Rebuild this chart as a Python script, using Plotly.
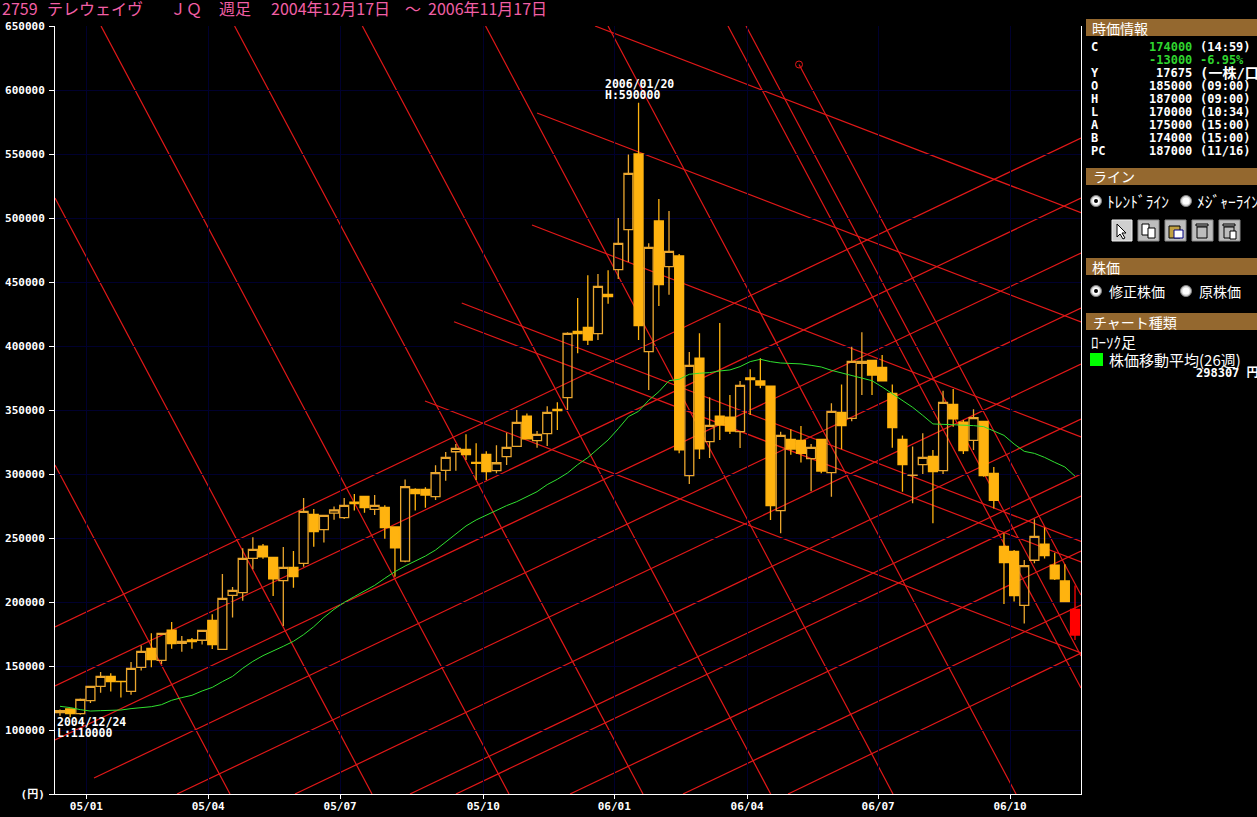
import plotly.graph_objects as go

# ---------- data ----------
week = list(range(101))
open_ = [113500,116400,112800,122900,134100,141900,138000,130200,149000,163800,154400,178100,167700,170300,170100,185700,163000,205200,207300,234100,243700,234900,216700,227100,230200,268500,256500,269500,265900,278100,282500,272400,274000,258600,232000,288000,288000,282300,302900,317400,319300,309100,315400,302600,313600,321600,345100,326100,331500,350500,359600,411500,414600,409600,440400,459600,490900,550000,395600,497700,462000,470300,298700,390600,325300,345100,344500,333100,375000,372700,368700,271400,327100,326300,312000,327100,301000,348200,343500,386500,388800,383300,363000,327100,299000,307300,313800,302600,354400,340600,326300,341100,300500,243500,239600,197400,232600,245100,228700,216400,194300]
high_ = [116100,116900,124700,134100,145300,144300,138000,153100,166100,175500,175500,184400,173400,171900,177900,190400,221900,211700,241900,250500,245300,234900,243000,239800,281200,272700,267700,274700,281200,284400,282500,283600,275500,258600,295800,288800,289600,306800,317200,323400,331000,324000,317700,322400,332300,350000,347200,333600,352900,356000,410700,437500,455200,456300,459100,500000,549700,590000,480200,514800,505500,471900,395300,409900,359900,418000,361700,372700,381800,390400,368800,333100,334900,337500,323400,327100,355200,370000,399500,410700,388800,393000,370000,330000,321400,331800,318800,365100,366400,342200,350500,341100,305500,253700,240600,232800,264600,258300,238500,229400,212800]
low_ = [111200,110000,112000,121100,129100,130000,125300,127600,146400,149000,151600,163500,161200,163500,166700,163300,163000,187800,201000,225500,233800,204700,181200,211200,227600,243200,246400,264300,264800,271400,269800,268000,249500,219800,231000,271400,273700,279700,294800,302600,311000,295300,295300,300500,307000,321600,327400,320600,321900,334400,350000,394300,400800,404700,433100,452400,465600,404700,365600,431300,440100,316200,292200,311700,312500,326600,331300,320300,346100,366900,264100,253700,315100,308900,286500,300500,282300,319300,341200,361700,361700,372700,320600,286200,277100,300000,261500,300000,337000,315600,318800,297900,273000,198400,200300,183300,230200,233900,217200,200300,170300]
close_ = [115100,112800,124000,134100,141900,137800,137800,148200,161500,155000,175500,167500,169300,169000,177900,166700,202900,209100,234100,241100,235200,218000,227100,219800,270800,255000,267700,271900,275500,276800,273700,275500,258100,242400,290100,284600,283600,301000,313000,320000,315100,308300,301800,308800,320800,340400,327400,331000,348200,349500,409900,409600,404700,446600,438600,480200,534900,415900,477100,447900,474000,318800,384900,319600,338000,338300,333600,369300,373700,369500,275300,330200,319500,316100,320800,302300,349000,337800,388000,388000,377300,372700,336200,307300,299100,313000,301800,356000,343000,318200,344000,298700,279400,230700,205000,228400,251300,236200,218000,200300,174200]
ma26 = [118500,117500,115900,114800,115100,115400,115600,116700,117500,118200,119800,123200,125300,127100,130500,133300,137800,141900,148200,153600,158100,161500,165400,169300,174500,180700,188000,194300,199700,204200,208300,213000,218500,223700,228100,232000,235900,240600,246900,252600,259400,264100,268000,271900,275300,278400,282000,286200,291700,295900,300800,307300,312800,319800,326600,335400,344800,349000,357600,364300,372900,374000,377900,378700,379200,380500,381300,383900,387800,389600,387800,386700,386500,386000,384900,383600,381000,378900,376800,374700,372900,368000,362500,357300,352100,345800,339100,338800,338500,338000,337800,337000,333900,330200,323400,317700,316100,313000,309100,305500,298300]

tick_pos = [2.6,14.6,27.6,41.7,54.6,67.7,80.6,93.6]
tick_txt = ["05/01","05/04","05/07","05/10","06/01","06/04","06/07","06/10"]
price_ticks = list(range(50000,650001,50000))
price_labels = ["(円)"]+[str(p) for p in price_ticks[1:]]

# trendlines: week-index / price pairs
X_L, X_R = -0.4926, 100.59
P_B, P_T = 50000, 650000
rising = [(X_L,180470,X_R,562500),(X_L,134375,X_R,515625),(X_L,92188,X_R,472656),(3.35,62500,X_R,429688),
          (11.53,P_B,X_R,385938),(23.15,P_B,X_R,342969),(34.48,P_B,X_R,300000),(39.01,P_B,X_R,282812),
          (50.25,P_B,X_R,239844),(61.38,P_B,X_R,197656),(71.73,P_B,X_R,160156)]
steep = [(X_L,515625,30.74,P_B),(X_L,307031,16.75,P_B),(4.04,P_T,44.24,P_B),(17.2,P_T,57.44,P_B),(29.79,P_T,70.02,P_B),
         (41.93,P_T,82.07,P_B),(53.99,P_T,94.19,P_B),(65.81,P_T,X_R,132812),(67.59,P_T,X_R,157812),(72.81,619922,X_R,205469)]
shallow = [(52.71,P_T,X_R,504141),(47.0,582031,X_R,418750),(46.5,494531,X_R,328906),
           (39.58,433594,X_R,247266),(38.82,418984,X_R,231250),(35.96,357031,X_R,160156)]

# ---------- helpers ----------
W,H = 1257,817
L,R,T,B = 55,176,26,23
PW,PH = W-L-R,H-T-B
px = lambda x:(x-L)/PW
py = lambda y:1-(y-T)/PH
MONO = "DejaVu Sans Mono, Noto Sans CJK JP"
JP = "Noto Sans CJK JP, DejaVu Sans"
ORANGE,HOLLOW = "#ffb30f","#eaa62e"
RED = "#e21818"
GRID = "#00002e"

anns,shapes = [],[]
def label(x,y,text,color="#ffffff",size=12,family=MONO,anchor="left",bold=False):
    t = f"<b>{text}</b>" if bold else text
    anns.append(dict(xref="paper",yref="paper",x=px(x),y=py(y),text=t,showarrow=False,xanchor=anchor,yanchor="middle",
                     align="left",borderpad=0,borderwidth=0,font=dict(color=color,size=size,family=family)))
def rect(x0,y0,x1,y1,fill,line=None,lw=1):
    shapes.append(dict(type="rect",xref="paper",yref="paper",x0=px(x0),x1=px(x1),y0=py(y0),y1=py(y1),fillcolor=fill,layer="above",
                       line=dict(color=line or fill,width=lw if line else 0)))
def circle(cx,cy,r,fill,line=None):
    shapes.append(dict(type="circle",xref="paper",yref="paper",x0=px(cx-r),x1=px(cx+r),y0=py(cy-r),y1=py(cy+r),fillcolor=fill,layer="above",
                       line=dict(color=line or fill,width=1 if line else 0)))
def poly(points,fill,line=None):
    d = "M"+" L".join(f"{px(a):.5f},{py(b):.5f}" for a,b in points)+" Z"
    shapes.append(dict(type="path",path=d,xref="paper",yref="paper",fillcolor=fill,layer="above",line=dict(color=line or fill,width=1)))

for seg in rising+steep+shallow:
    shapes.append(dict(type="line",xref="x",yref="y",x0=seg[0],y0=seg[1],x1=seg[2],y1=seg[3],layer="below",line=dict(color=RED,width=1.2)))

# ---------- chart labels ----------
for x,t in [(2,"2759"),(47,"テレウェイヴ"),(170,"ＪＱ"),(219,"週足"),(271,"2004年12月17日"),(405,"～"),(428,"2006年11月17日")]:
    label(x,8,t,"#f25fa5",16,JP)
label(605,84,"2006/01/20",size=11.5,bold=True)
label(605,95,"H:590000",size=11.5,bold=True)
label(57,722,"2004/12/24",size=11.5,bold=True)
label(57,733,"L:110000",size=11.5,bold=True)

# ---------- side panel ----------
BROWN = "#94682f"
for y0,t,lx in [(19,"時価情報",1092),(168,"ライン",1093),(258,"株価",1092),(313,"チャート種類",1093)]:
    rect(1086,y0,1257,y0+17,BROWN)
    label(lx,y0+8.5,t,"#ffffff",14,JP)

rows = [("C",47.5,"174000","(14:59)"),("",60,"-13000","-6.95%"),("Y",73,"17675","(一株/口"),("O",86,"185000","(09:00)"),
        ("H",99,"187000","(09:00)"),("L",112,"170000","(10:34)"),("A",125.5,"175000","(15:00)"),("B",138,"174000","(15:00)"),("PC",151,"187000","(11/16)")]
GREEN = "#2fd52f"
for k,y,v,p in rows:
    green = k in ("C","")
    if k: label(1091,y,k,size=12,bold=True)
    label(1192,y,v,GREEN if green else "#ffffff",12,anchor="right",bold=True)
    label(1200,y,p,GREEN if k=="" else "#ffffff",14 if k=="Y" else 12,bold=True)

def radio(cx,cy,on):
    circle(cx,cy,5.5,"#d8d8d8","#808080")
    circle(cx,cy,3.5,"#ffffff")
    if on: circle(cx,cy,2,"#000000")
radio(1096,201,True); radio(1186,201,False); radio(1096,291,True); radio(1186,291,False)
label(1107,201,"ﾄﾚﾝﾄﾞﾗｲﾝ",size=15.5,family=JP)
label(1197,201,"ﾒｼﾞｬｰﾗｲﾝ",size=15.5,family=JP)
label(1109,291,"修正株価",size=14,family=JP)
label(1199,291,"原株価",size=14,family=JP)
label(1091,341,"ﾛｰｿｸ足",size=15,family=JP)
rect(1090,353,1103,366,"#00ff00")
label(1109,359,"株価移動平均(26週)",size=15,family=JP)
label(1196,373,"298307 円",size=12,bold=True)

# tool buttons
for i,(x0,x1) in enumerate([(1112,1132),(1138,1159),(1165,1186),(1192,1213),(1219,1240)]):
    rect(x0,220,x1,241,"#cfcfcf" if i==0 else "#bdbdbd","#f0f0f0" if i==0 else "#8a8a8a")
poly([(1117,224),(1117,237),(1120,234),(1123,239),(1125,238),(1122,233),(1126,233)],"#ffffff","#000000")
rect(1142,224,1149,235,"#ffffff","#000000"); rect(1148,228,1155,238,"#ffffff","#000000")
rect(1169,226,1180,238,"#c0a040","#000000"); rect(1174,230,1183,238,"#ffffff","#000080")
for x in (1197,1224):
    rect(x,227,x+10,238,"#bdbdbd","#000000"); rect(x-1,224,x+11,226,"#bdbdbd","#000000")
rect(1230,231,1236,239,"#ffffff","#000000")

# ---------- traces ----------
fig = go.Figure()
fig.add_trace(go.Candlestick(x=week[:-1],open=open_[:-1],high=high_[:-1],low=low_[:-1],close=close_[:-1],whiskerwidth=0,
    increasing=dict(line=dict(color=HOLLOW,width=1.3),fillcolor="rgba(0,0,0,0)"),
    decreasing=dict(line=dict(color=ORANGE,width=1.3),fillcolor=ORANGE),hoverinfo="skip"))
fig.add_trace(go.Candlestick(x=week[-1:],open=open_[-1:],high=high_[-1:],low=low_[-1:],close=close_[-1:],whiskerwidth=0,
    increasing=dict(line=dict(color="#ff0000",width=1.3),fillcolor="#ff0000"),
    decreasing=dict(line=dict(color="#ff0000",width=1.3),fillcolor="#ff0000"),hoverinfo="skip"))
fig.add_trace(go.Scatter(x=week,y=ma26,mode="lines",line=dict(color="#30e030",width=1),hoverinfo="skip"))
fig.add_trace(go.Scatter(x=[steep[-1][0]],y=[steep[-1][1]],mode="markers",hoverinfo="skip",
    marker=dict(symbol="circle-open",size=7,color=RED,line=dict(color=RED,width=1))))

fig.update_layout(width=W,height=H,margin=dict(l=L,r=R,t=T,b=B,pad=0,autoexpand=False),
    paper_bgcolor="#000000",plot_bgcolor="#000000",showlegend=False,hovermode=False,boxgap=0.12,boxgroupgap=0,
    annotations=anns,shapes=shapes,
    xaxis=dict(range=[X_L,X_R],tickmode="array",tickvals=tick_pos,ticktext=tick_txt,rangeslider=dict(visible=False),
        showgrid=True,gridcolor=GRID,gridwidth=1,zeroline=False,showline=True,linecolor="#ffffff",linewidth=1,
        ticks="outside",ticklen=4,tickcolor="#ffffff",tickangle=0,ticklabelstandoff=-2,
        tickfont=dict(color="#ffffff",size=11,family=MONO+", sans-serif",weight="bold")),
    yaxis=dict(range=[P_B,P_T],tickmode="array",tickvals=price_ticks,ticktext=price_labels,
        showgrid=True,gridcolor=GRID,gridwidth=1,zeroline=False,showline=True,mirror=True,linecolor="#ffffff",linewidth=1,
        ticks="outside",ticklen=5,tickcolor="#ffffff",ticklabelstandoff=2,
        tickfont=dict(color="#ffffff",size=11,family=MONO+", sans-serif",weight="bold")))

fig.write_html("out.html",config=dict(displayModeBar=False),
    post_script="document.body.style.margin='0';document.body.style.background='#000';document.documentElement.style.overflow='hidden';")
